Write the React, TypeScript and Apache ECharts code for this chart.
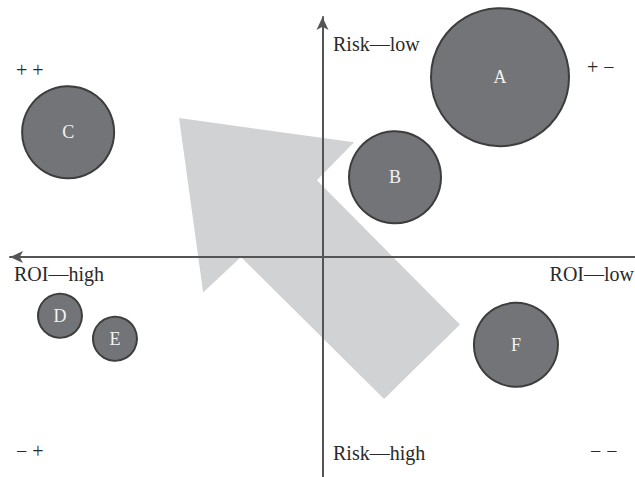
import React, { useEffect, useRef } from "react";
import * as echarts from "echarts";

// Bubble data: name, ROI (positive = high, plotted left), Risk (positive = low, plotted up), size
const names = ["A", "B", "C", "D", "E", "F"];
const roi = [-5.68, -2.32, 8.14, 8.4, 6.64, -6.19];
const risk = [7.12, 3.16, 4.94, -2.32, -3.23, -3.47];
const sizes = [69, 46, 46, 22, 22, 42];

// Direction arrow outline, in data coordinates
const arrowX = [4.59, -1.01, 0.18, -4.4, -1.97, 2.61, 3.82];
const arrowY = [5.5, 4.54, 3.04, -2.67, -5.61, 0, -1.4];

const axisTitles = ["Risk—low", "Risk—high", "ROI—high", "ROI—low"];
const quadrantTitles = ["+ +", "+ −", "− +", "− −"];

const FONT = "'Liberation Serif', 'DejaVu Serif', serif";
const TXT = "#2a2a2a";

export default function App() {
  const ref = useRef<HTMLDivElement>(null);
  useEffect(() => {
    document.body.style.margin = "0";
    const chart = echarts.init(ref.current!, null, { renderer: "svg" });
    const axisLine = (symbol: string[]) => ({
      show: true,
      onZero: true,
      symbol,
      symbolSize: [9, 13],
      lineStyle: { color: "#555555", width: 2 },
    });
    const textStyle = (t: string) => ({ text: t, fill: TXT, font: `20px ${FONT}` });
    const quadStyle = (t: string) => ({ text: t, fill: TXT, font: `20px ${FONT}` });
    chart.setOption({
      animation: false,
      backgroundColor: "#ffffff",
      grid: { left: 10, right: 0, top: 17, bottom: 0 },
      xAxis: {
        type: "value",
        min: -10,
        max: 10,
        inverse: true,
        z: 3,
        axisLine: axisLine(["arrow", "none"]),
        axisTick: { show: false },
        axisLabel: { show: false },
        splitLine: { show: false },
      },
      yAxis: {
        type: "value",
        min: -8.7,
        max: 9.5,
        z: 3,
        axisLine: axisLine(["none", "arrow"]),
        axisTick: { show: false },
        axisLabel: { show: false },
        splitLine: { show: false },
      },
      series: [
        {
          type: "custom",
          z: 1,
          silent: true,
          clip: false,
          data: [[0, 0]],
          renderItem: (_p: any, api: any) => ({
            type: "polygon",
            shape: { points: arrowX.map((x, i) => api.coord([x, arrowY[i]])) },
            style: { fill: "#d1d2d4" },
          }),
        },
        {
          type: "scatter",
          z: 4,
          data: names.map((n, i) => ({ name: n, value: [roi[i], risk[i], sizes[i]] })),
          symbolSize: (v: number[]) => v[2] * 2,
          itemStyle: { color: "#737478", borderColor: "#3d3d3d", borderWidth: 2, opacity: 1 },
          label: {
            show: true,
            position: "inside",
            formatter: "{b}",
            color: "#f2f2f2",
            fontFamily: FONT,
            fontSize: 18,
          },
        },
      ],
      graphic: [
        { type: "text", left: 333, top: 34, style: textStyle(axisTitles[0]), z: 10 },
        { type: "text", left: 333, top: 443, style: textStyle(axisTitles[1]), z: 10 },
        { type: "text", left: 14, top: 264, style: textStyle(axisTitles[2]), z: 10 },
        { type: "text", right: 1, top: 264, style: textStyle(axisTitles[3]), z: 10 },
        { type: "text", left: 16, top: 60, style: quadStyle(quadrantTitles[0]), z: 10 },
        { type: "text", left: 587, top: 57, style: quadStyle(quadrantTitles[1]), z: 10 },
        { type: "text", left: 16, top: 441, style: quadStyle(quadrantTitles[2]), z: 10 },
        { type: "text", left: 590, top: 441, style: quadStyle(quadrantTitles[3]), z: 10 },
      ],
    });
    return () => chart.dispose();
  }, []);
  return <div ref={ref} style={{ width: 635, height: 477 }} />;
}
